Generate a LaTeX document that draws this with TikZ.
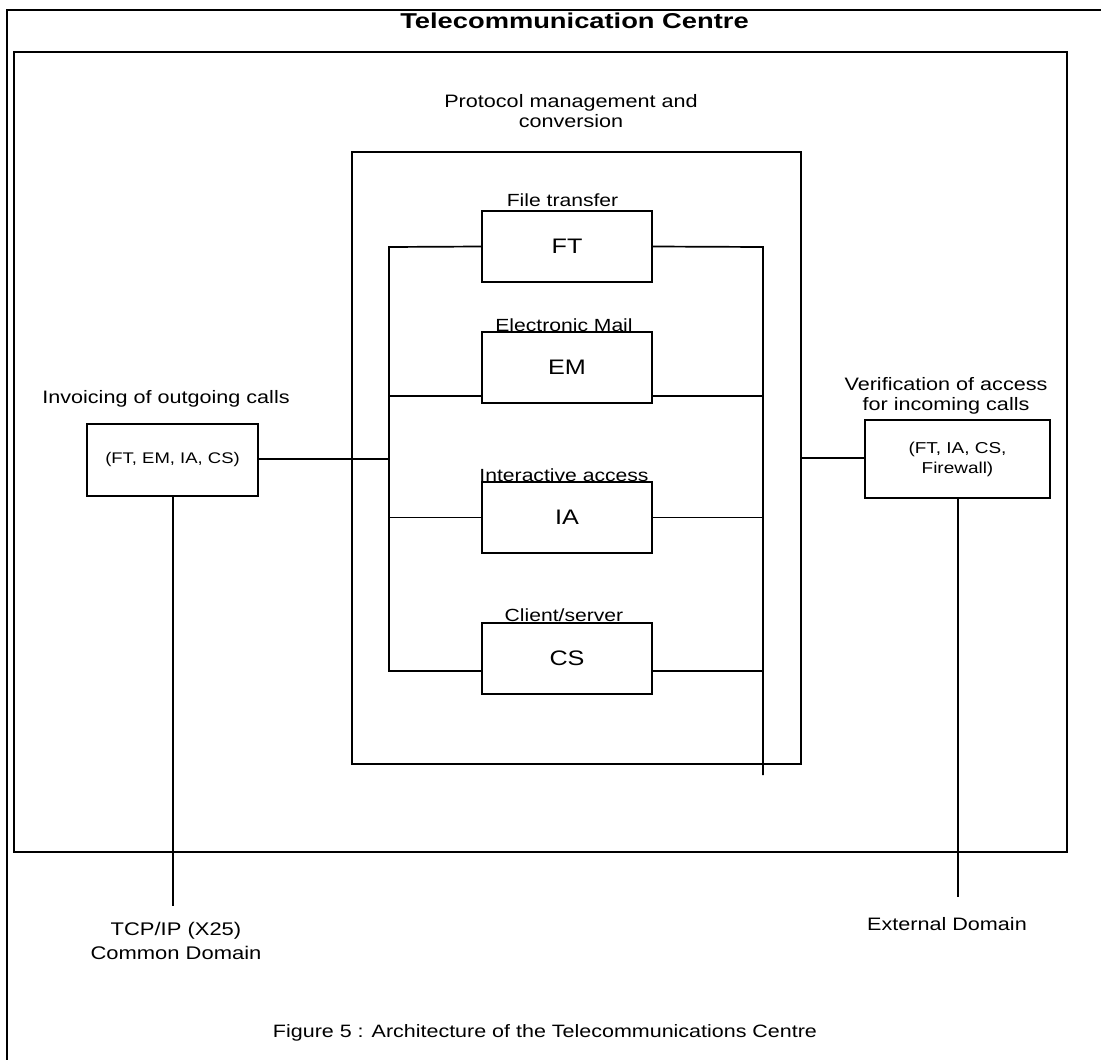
\documentclass[tikz,border=0pt]{standalone}
\usepackage{fontspec}
\setmainfont{Liberation Sans}[FakeStretch=1.2]
\newfontfamily\headingfont{Liberation Sans}[FakeStretch=1.27]
\begin{document}
\begin{tikzpicture}[x=1pt,y=-1pt,
  frameline/.style={line width=2.1pt},
  box/.style={draw, line width=1.9pt, inner sep=0pt, align=center},
  codebox/.style={box, minimum width=170pt, minimum height=71pt, font=\fontsize{21}{24}\selectfont},
  wire/.style={line width=1.7pt},
  thinwire/.style={line width=1.3pt},
  lbl/.style={inner sep=0pt, align=center, font=\fontsize{18}{20}\selectfont},
  sublbl/.style={inner sep=0pt, anchor=base, font=\fontsize{17.6}{20}\selectfont},
]
\useasboundingbox (0,0) rectangle (1101,1060);
\fill[white] (0,0) rectangle (1101,1060);

% outer frame and title
\draw[frameline] (7,1060) -- (7,10) -- (1101,10);
\node[inner sep=0pt, anchor=base, font=\headingfont\bfseries\fontsize{21.5}{24}\selectfont] (title) at (574.5,28) {Telecommunication Centre};

% inner frame
\draw[frameline] (14,52) rectangle (1067,852);

% protocol management block
\node[lbl, anchor=north] (protlbl) at (571,94) {Protocol management and\\conversion};
\draw[box] (352,152) rectangle (801,764);
\coordinate (protE) at (801,458);

% service boxes
\node[codebox] (ft) at (567,246.5) {FT};
\node[codebox] (em) at (567,367.5) {EM};
\node[codebox] (ia) at (567,517.5) {IA};
\node[codebox] (cs) at (567,658.5) {CS};

\node[sublbl] (ftlbl) at (562.5,206.7) {File transfer};
\node[sublbl] (emlbl) at (564,331) {Electronic Mail};
\node[sublbl] (ialbl) at (564,481) {Interactive access};
\node[sublbl] (cslbl) at (564,621) {Client/server};

% internal buses
\coordinate (busLtop) at (389,247);
\coordinate (busLbot) at (389,671);
\coordinate (busRtop) at (763,247);
\coordinate (busRbot) at (763,775);
\coordinate (emy) at (0,396);
\coordinate (csy) at (0,671);

\draw[wire] (ft.west) -- (busLtop) -- (busLbot) -- (busLbot -| cs.west);
\draw[wire] (ft.east) -- (busRtop) -- (busRbot);
\draw[wire] (busLtop |- emy) -- (em.west |- emy);
\draw[wire] (em.east |- emy) -- (busRtop |- emy);
\draw[wire] (busLtop |- ia.west) -- (ia.west);
\draw[wire] (ia.east) -- (busRtop |- ia.east);
\draw[wire] (cs.east |- csy) -- (busRtop |- csy);

% invoicing of outgoing calls
\node[lbl, anchor=base] (invlbl) at (166,403) {Invoicing of outgoing calls};
\node[box, minimum width=171pt, minimum height=72pt, font=\fontsize{15.4}{18}\selectfont] (inv) at (172.5,460) {(FT, EM, IA, CS)};
\draw[wire] (inv.east |- 0,459) -- (busLtop |- 0,459);
\coordinate (tcpend) at (173,906);
\draw[thinwire] (inv.south -| tcpend) -- (tcpend);
\node[lbl, anchor=north, font=\fontsize{18.3}{24}\selectfont] (tcp) at (176,922) {TCP/IP (X25)\\Common Domain};

% verification of incoming calls
\node[lbl, anchor=north] (verlbl) at (946,377) {Verification of access\\for incoming calls};
\node[box, minimum width=185pt, minimum height=78pt, font=\fontsize{15.8}{20}\selectfont] (ver) at (957.5,459) {(FT, IA, CS,\\Firewall)};
\draw[wire] (protE) -- (ver.west |- protE);
\coordinate (extend) at (958,897);
\draw[thinwire] (ver.south -| extend) -- (extend);
\node[lbl, anchor=base] (extlbl) at (947,930) {External Domain};

% caption
\node[inner sep=0pt, anchor=base, font=\fontsize{17.9}{20}\selectfont] (caption) at (545,1037) {Figure 5 : Architecture of the Telecommunications Centre};
\end{tikzpicture}
\end{document}
